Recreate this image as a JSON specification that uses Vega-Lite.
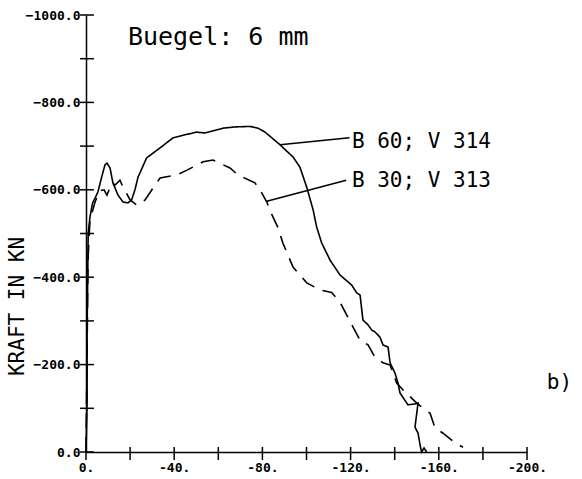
{
  "$schema": "https://vega.github.io/schema/vega-lite/v6.json",
  "width": 441,
  "height": 437,
  "autosize": {"type": "none"},
  "padding": {"left": 86, "top": 15, "right": 55, "bottom": 27},
  "background": "white",
  "config": {"view": {"stroke": null}},
  "datasets": {
    "curves": [
      {"s": "B 60; V 314", "i": 0, "x": 0, "y": 0},
      {"s": "B 60; V 314", "i": 1, "x": -0.5, "y": -119},
      {"s": "B 60; V 314", "i": 2, "x": -0.5, "y": -279},
      {"s": "B 60; V 314", "i": 3, "x": -1, "y": -501},
      {"s": "B 60; V 314", "i": 4, "x": -1.8, "y": -538},
      {"s": "B 60; V 314", "i": 5, "x": -3, "y": -570},
      {"s": "B 60; V 314", "i": 6, "x": -4.1, "y": -581},
      {"s": "B 60; V 314", "i": 7, "x": -5.4, "y": -595},
      {"s": "B 60; V 314", "i": 8, "x": -7.1, "y": -629},
      {"s": "B 60; V 314", "i": 9, "x": -8.6, "y": -657},
      {"s": "B 60; V 314", "i": 10, "x": -9.5, "y": -661},
      {"s": "B 60; V 314", "i": 11, "x": -10.9, "y": -650},
      {"s": "B 60; V 314", "i": 12, "x": -12.2, "y": -616},
      {"s": "B 60; V 314", "i": 13, "x": -14.5, "y": -588},
      {"s": "B 60; V 314", "i": 14, "x": -16.8, "y": -572},
      {"s": "B 60; V 314", "i": 15, "x": -19, "y": -570},
      {"s": "B 60; V 314", "i": 16, "x": -20.7, "y": -577},
      {"s": "B 60; V 314", "i": 17, "x": -22.2, "y": -600},
      {"s": "B 60; V 314", "i": 18, "x": -23.6, "y": -629},
      {"s": "B 60; V 314", "i": 19, "x": -27.5, "y": -673},
      {"s": "B 60; V 314", "i": 20, "x": -33.6, "y": -696},
      {"s": "B 60; V 314", "i": 21, "x": -39.5, "y": -719},
      {"s": "B 60; V 314", "i": 22, "x": -45, "y": -726},
      {"s": "B 60; V 314", "i": 23, "x": -50.2, "y": -732},
      {"s": "B 60; V 314", "i": 24, "x": -54, "y": -730},
      {"s": "B 60; V 314", "i": 25, "x": -62.1, "y": -741},
      {"s": "B 60; V 314", "i": 26, "x": -68, "y": -744},
      {"s": "B 60; V 314", "i": 27, "x": -74.4, "y": -745},
      {"s": "B 60; V 314", "i": 28, "x": -78, "y": -741},
      {"s": "B 60; V 314", "i": 29, "x": -81.2, "y": -732},
      {"s": "B 60; V 314", "i": 30, "x": -84.5, "y": -718},
      {"s": "B 60; V 314", "i": 31, "x": -88, "y": -703},
      {"s": "B 60; V 314", "i": 32, "x": -93.9, "y": -675},
      {"s": "B 60; V 314", "i": 33, "x": -97, "y": -652},
      {"s": "B 60; V 314", "i": 34, "x": -100.1, "y": -606},
      {"s": "B 60; V 314", "i": 35, "x": -103, "y": -554},
      {"s": "B 60; V 314", "i": 36, "x": -104.6, "y": -515},
      {"s": "B 60; V 314", "i": 37, "x": -106.9, "y": -478},
      {"s": "B 60; V 314", "i": 38, "x": -110.7, "y": -439},
      {"s": "B 60; V 314", "i": 39, "x": -115.2, "y": -405},
      {"s": "B 60; V 314", "i": 40, "x": -120.5, "y": -382},
      {"s": "B 60; V 314", "i": 41, "x": -122.8, "y": -364},
      {"s": "B 60; V 314", "i": 42, "x": -124.3, "y": -359},
      {"s": "B 60; V 314", "i": 43, "x": -125.6, "y": -302},
      {"s": "B 60; V 314", "i": 44, "x": -127.9, "y": -291},
      {"s": "B 60; V 314", "i": 45, "x": -129.6, "y": -279},
      {"s": "B 60; V 314", "i": 46, "x": -131, "y": -275},
      {"s": "B 60; V 314", "i": 47, "x": -133.3, "y": -263},
      {"s": "B 60; V 314", "i": 48, "x": -134.7, "y": -245},
      {"s": "B 60; V 314", "i": 49, "x": -137, "y": -240},
      {"s": "B 60; V 314", "i": 50, "x": -137.9, "y": -204},
      {"s": "B 60; V 314", "i": 51, "x": -140.1, "y": -181},
      {"s": "B 60; V 314", "i": 52, "x": -141.5, "y": -158},
      {"s": "B 60; V 314", "i": 53, "x": -142.4, "y": -135},
      {"s": "B 60; V 314", "i": 54, "x": -146, "y": -108},
      {"s": "B 60; V 314", "i": 55, "x": -149.2, "y": -110},
      {"s": "B 60; V 314", "i": 56, "x": -150.6, "y": -112},
      {"s": "B 60; V 314", "i": 57, "x": -149.2, "y": -57},
      {"s": "B 60; V 314", "i": 58, "x": -150.6, "y": -43},
      {"s": "B 60; V 314", "i": 59, "x": -151.5, "y": -16},
      {"s": "B 60; V 314", "i": 60, "x": -152.2, "y": 0},
      {"s": "B 60; V 314", "i": 61, "x": -153.3, "y": -9},
      {"s": "B 60; V 314", "i": 62, "x": -154.5, "y": 0},
      {"s": "B 30; V 313", "i": 0, "x": 0, "y": 0},
      {"s": "B 30; V 313", "i": 1, "x": -0.5, "y": -233},
      {"s": "B 30; V 313", "i": 2, "x": -0.9, "y": -439},
      {"s": "B 30; V 313", "i": 3, "x": -1.8, "y": -531},
      {"s": "B 30; V 313", "i": 4, "x": -4.1, "y": -572},
      {"s": "B 30; V 313", "i": 5, "x": -6.3, "y": -598},
      {"s": "B 30; V 313", "i": 6, "x": -8.2, "y": -600},
      {"s": "B 30; V 313", "i": 7, "x": -9.5, "y": -588},
      {"s": "B 30; V 313", "i": 8, "x": -11.8, "y": -616},
      {"s": "B 30; V 313", "i": 9, "x": -13.2, "y": -611},
      {"s": "B 30; V 313", "i": 10, "x": -15.4, "y": -622},
      {"s": "B 30; V 313", "i": 11, "x": -16.8, "y": -606},
      {"s": "B 30; V 313", "i": 12, "x": -20, "y": -577},
      {"s": "B 30; V 313", "i": 13, "x": -23.1, "y": -565},
      {"s": "B 30; V 313", "i": 14, "x": -26.8, "y": -577},
      {"s": "B 30; V 313", "i": 15, "x": -30.4, "y": -604},
      {"s": "B 30; V 313", "i": 16, "x": -33.6, "y": -627},
      {"s": "B 30; V 313", "i": 17, "x": -41.3, "y": -634},
      {"s": "B 30; V 313", "i": 18, "x": -45.8, "y": -645},
      {"s": "B 30; V 313", "i": 19, "x": -53.1, "y": -664},
      {"s": "B 30; V 313", "i": 20, "x": -57.6, "y": -668},
      {"s": "B 30; V 313", "i": 21, "x": -65.3, "y": -650},
      {"s": "B 30; V 313", "i": 22, "x": -68.9, "y": -634},
      {"s": "B 30; V 313", "i": 23, "x": -76.6, "y": -616},
      {"s": "B 30; V 313", "i": 24, "x": -78.9, "y": -600},
      {"s": "B 30; V 313", "i": 25, "x": -82, "y": -572},
      {"s": "B 30; V 313", "i": 26, "x": -84.4, "y": -542},
      {"s": "B 30; V 313", "i": 27, "x": -87.1, "y": -513},
      {"s": "B 30; V 313", "i": 28, "x": -89.3, "y": -478},
      {"s": "B 30; V 313", "i": 29, "x": -93.9, "y": -423},
      {"s": "B 30; V 313", "i": 30, "x": -100.1, "y": -387},
      {"s": "B 30; V 313", "i": 31, "x": -106.1, "y": -371},
      {"s": "B 30; V 313", "i": 32, "x": -111.4, "y": -365},
      {"s": "B 30; V 313", "i": 33, "x": -115.2, "y": -343},
      {"s": "B 30; V 313", "i": 34, "x": -118.2, "y": -314},
      {"s": "B 30; V 313", "i": 35, "x": -121.1, "y": -286},
      {"s": "B 30; V 313", "i": 36, "x": -124.3, "y": -256},
      {"s": "B 30; V 313", "i": 37, "x": -127.9, "y": -245},
      {"s": "B 30; V 313", "i": 38, "x": -131, "y": -217},
      {"s": "B 30; V 313", "i": 39, "x": -134.7, "y": -204},
      {"s": "B 30; V 313", "i": 40, "x": -137.9, "y": -199},
      {"s": "B 30; V 313", "i": 41, "x": -140.9, "y": -158},
      {"s": "B 30; V 313", "i": 42, "x": -143.8, "y": -142},
      {"s": "B 30; V 313", "i": 43, "x": -150, "y": -112},
      {"s": "B 30; V 313", "i": 44, "x": -152.2, "y": -103},
      {"s": "B 30; V 313", "i": 45, "x": -156, "y": -89},
      {"s": "B 30; V 313", "i": 46, "x": -158.3, "y": -55},
      {"s": "B 30; V 313", "i": 47, "x": -161.9, "y": -43},
      {"s": "B 30; V 313", "i": 48, "x": -167.3, "y": -21},
      {"s": "B 30; V 313", "i": 49, "x": -171, "y": -11}
    ],
    "leaders": [
      {"s": "B 60; V 314", "x": -88, "y": -703, "x2": -119.5, "y2": -719},
      {"s": "B 30; V 313", "x": -82, "y": -574, "x2": -118, "y2": -622}
    ],
    "labels": [
      {"t": "B 60; V 314", "x": -120.6, "y": -710, "size": "s"},
      {"t": "B 30; V 313", "x": -120.6, "y": -619, "size": "s"},
      {"t": "Buegel: 6 mm", "x": -19, "y": -950, "size": "l"},
      {"t": "b)", "x": -209, "y": -158, "size": "s"}
    ],
    "yticks": [
      {"v": 0}, {"v": -100}, {"v": -200}, {"v": -300}, {"v": -400}, {"v": -500},
      {"v": -600}, {"v": -700}, {"v": -800}, {"v": -900}, {"v": -1000}
    ],
    "xticks": [
      {"v": 0}, {"v": -20}, {"v": -40}, {"v": -60}, {"v": -80}, {"v": -100},
      {"v": -120}, {"v": -140}, {"v": -160}, {"v": -180}, {"v": -200}
    ]
  },
  "layer": [
    {
      "data": {"name": "curves"},
      "mark": {"type": "line", "color": "black", "strokeWidth": 1.6},
      "encoding": {
        "x": {
          "field": "x", "type": "quantitative",
          "scale": {"domain": [0, -200], "nice": false, "zero": false},
          "axis": {
            "title": null,
            "values": [0, -20, -40, -60, -80, -100, -120, -140, -160, -180, -200],
            "labelExpr": "datum.value % 40 == 0 ? datum.value + '.' : ''",
            "labelFont": "DejaVu Sans Mono", "labelFontWeight": "bold", "labelFontSize": 13,
            "labelColor": "black", "labelPadding": 1,
            "domainColor": "black", "domainWidth": 1.5,
            "tickOpacity": 0, "tickSize": 8,
            "labelFlush": false, "labelOverlap": false,
            "grid": false
          }
        },
        "y": {
          "field": "y", "type": "quantitative",
          "scale": {"domain": [0, -1000], "nice": false, "zero": false},
          "axis": {
            "title": "KRAFT IN KN",
            "titleFont": "DejaVu Sans Mono", "titleFontWeight": "normal", "titleFontSize": 21,
            "titleColor": "black", "titleX": -69, "titleY": 291, "titleAngle": -90,
            "titleAlign": "center", "titleBaseline": "middle",
            "values": [0, -100, -200, -300, -400, -500, -600, -700, -800, -900, -1000],
            "labelExpr": "datum.value % 200 == 0 ? format(datum.value, '.1f') : ''",
            "labelFont": "DejaVu Sans Mono", "labelFontWeight": "bold", "labelFontSize": 13,
            "labelColor": "black", "labelPadding": 0,
            "domainColor": "black", "domainWidth": 1.5,
            "tickOpacity": 0, "tickSize": 6,
            "labelFlush": false, "labelOverlap": false,
            "grid": false
          }
        },
        "order": {"field": "i", "type": "quantitative"},
        "strokeDash": {
          "field": "s", "type": "nominal",
          "scale": {"domain": ["B 60; V 314", "B 30; V 313"], "range": [[1, 0], [15, 9]]},
          "legend": null
        }
      }
    },
    {
      "data": {"name": "yticks"},
      "mark": {"type": "rule", "color": "black", "strokeWidth": 1.5},
      "encoding": {
        "y": {"field": "v", "type": "quantitative", "scale": {"domain": [0, -1000], "nice": false, "zero": false}},
        "x": {"datum": 2.7, "type": "quantitative", "scale": {"domain": [0, -200], "nice": false, "zero": false}},
        "x2": {"datum": -3.6}
      }
    },
    {
      "data": {"name": "xticks"},
      "mark": {"type": "rule", "color": "black", "strokeWidth": 1.5},
      "encoding": {
        "x": {"field": "v", "type": "quantitative", "scale": {"domain": [0, -200], "nice": false, "zero": false}},
        "y": {"datum": 18.3, "type": "quantitative", "scale": {"domain": [0, -1000], "nice": false, "zero": false}},
        "y2": {"datum": -11.4}
      }
    },
    {
      "data": {"name": "leaders"},
      "mark": {"type": "rule", "color": "black", "strokeWidth": 1.5},
      "encoding": {
        "x": {"field": "x", "type": "quantitative", "scale": {"domain": [0, -200], "nice": false, "zero": false}},
        "y": {"field": "y", "type": "quantitative", "scale": {"domain": [0, -1000], "nice": false, "zero": false}},
        "x2": {"field": "x2"},
        "y2": {"field": "y2"}
      }
    },
    {
      "data": {"name": "labels"},
      "mark": {"type": "text", "color": "black", "align": "left", "baseline": "middle", "font": "DejaVu Sans Mono", "clip": false},
      "encoding": {
        "x": {"field": "x", "type": "quantitative", "scale": {"domain": [0, -200], "nice": false, "zero": false}},
        "y": {"field": "y", "type": "quantitative", "scale": {"domain": [0, -1000], "nice": false, "zero": false}},
        "text": {"field": "t"},
        "size": {"field": "size", "type": "nominal", "scale": {"domain": ["s", "l"], "range": [21, 25]}, "legend": null}
      }
    }
  ]
}
